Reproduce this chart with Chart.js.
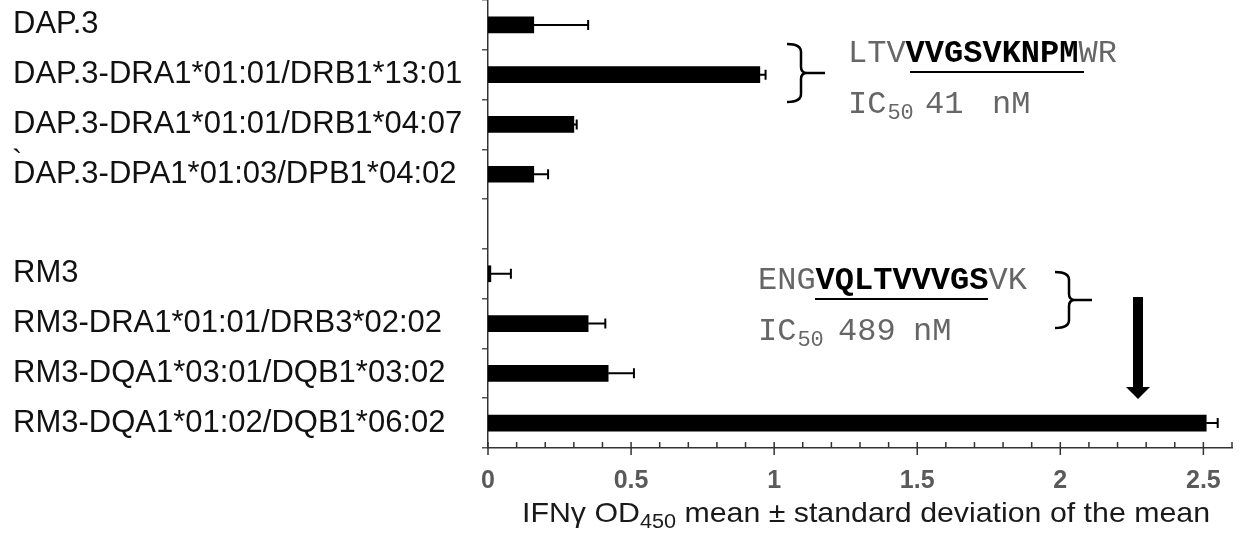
<!DOCTYPE html>
<html lang="en">
<head>
    <style>
        body { margin: 0; background: #fff; }
        #wrap { position: relative; width: 1240px; height: 536px; }
    </style>
</head>
<body>
    <div id="wrap">
        <canvas id="BarChart" width="1240" height="536"></canvas>
    </div>

    <script src="https://cdn.jsdelivr.net/npm/chart.js"></script>
    <script>
        // Chart data
        const categories = [
            'DAP.3',
            'DAP.3-DRA1*01:01/DRB1*13:01',
            'DAP.3-DRA1*01:01/DRB1*04:07',
            'DAP.3-DPA1*01:03/DPB1*04:02',
            '',
            'RM3',
            'RM3-DRA1*01:01/DRB3*02:02',
            'RM3-DQA1*03:01/DQB1*03:02',
            'RM3-DQA1*01:02/DQB1*06:02'
        ];
        const means = [0.16, 0.95, 0.30, 0.16, null, 0.01, 0.35, 0.42, 2.51];
        const sems = [0.19, 0.02, 0.01, 0.05, null, 0.07, 0.06, 0.09, 0.04];
        const xTicks = [0, 0.5, 1, 1.5, 2, 2.5];

        const labelFont = "'Liberation Sans', Arial, sans-serif";
        const monoFont = "'Liberation Mono', 'Courier New', monospace";

        // Error bars (plus side only, with a cap)
        const errorBars = {
            id: 'errorBars',
            afterDatasetsDraw(chart) {
                const x = chart.scales.x, y = chart.scales.y, ctx = chart.ctx;
                ctx.save();
                ctx.strokeStyle = '#000';
                ctx.lineWidth = 2;
                means.forEach((m, i) => {
                    if (m === null) return;
                    const x1 = x.getPixelForValue(m);
                    const x2 = x.getPixelForValue(m + sems[i]);
                    const py = y.getPixelForValue(i);
                    ctx.beginPath();
                    ctx.moveTo(x1, py);
                    ctx.lineTo(x2, py);
                    ctx.moveTo(x2, py - 5);
                    ctx.lineTo(x2, py + 5);
                    ctx.stroke();
                });
                ctx.restore();
            }
        };

        // x axis tick marks (major cross the axis, minor inside) + axis title
        const xAxisDeco = {
            id: 'xAxisDeco',
            afterDraw(chart) {
                const x = chart.scales.x, ctx = chart.ctx;
                const y0 = chart.chartArea.bottom;
                ctx.save();
                ctx.strokeStyle = '#333';
                ctx.lineWidth = 1.5;
                for (let k = 0; k <= 26; k++) {
                    const px = x.getPixelForValue(k / 10);
                    ctx.beginPath();
                    if (k % 5 === 0) {
                        ctx.moveTo(px, y0 - 6);
                        ctx.lineTo(px, y0 + 7);
                    } else {
                        ctx.moveTo(px, y0 - 6);
                        ctx.lineTo(px, y0);
                    }
                    ctx.stroke();
                }

                // axis title with subscript
                ctx.fillStyle = '#1a1a1a';
                ctx.textBaseline = 'alphabetic';
                const parts = [
                    { t: 'IFN\u03b3 OD', f: '28px ' + labelFont, dy: 0 },
                    { t: '450', f: '20px ' + labelFont, dy: 6 },
                    { t: ' mean \u00b1 standard deviation of the mean', f: '28px ' + labelFont, dy: 0 }
                ];
                let total = 0;
                parts.forEach(p => { ctx.font = p.f; p.w = ctx.measureText(p.t).width; total += p.w; });
                const targetW = 688;
                const sx = targetW / total;
                ctx.translate(522, 522);
                ctx.scale(sx, 1);
                let cx = 0;
                parts.forEach(p => {
                    ctx.font = p.f;
                    ctx.fillText(p.t, cx, p.dy);
                    cx += p.w;
                });
                ctx.restore();
            }
        };

        // peptide annotations, brackets and arrow
        function drawBracket(ctx, x0, x1, top, bot, stub) {
            const mid = (top + bot) / 2;
            ctx.beginPath();
            ctx.moveTo(x0, top);
            ctx.quadraticCurveTo(x1, top, x1, top + 8);
            ctx.lineTo(x1, mid - 6);
            ctx.quadraticCurveTo(x1, mid, x1 + 6, mid);
            ctx.lineTo(stub, mid);
            ctx.moveTo(x1 + 6, mid);
            ctx.quadraticCurveTo(x1, mid, x1, mid + 6);
            ctx.lineTo(x1, bot - 8);
            ctx.quadraticCurveTo(x1, bot, x0, bot);
            ctx.stroke();
        }

        function drawPeptide(ctx, x, y, parts) {
            let cx = x;
            parts.forEach(p => {
                ctx.font = (p.b ? 'bold ' : '') + '32px ' + monoFont;
                ctx.fillStyle = p.b ? '#000' : '#666';
                ctx.fillText(p.t, cx, y);
                cx += ctx.measureText(p.t).width;
            });
        }

        function drawIC(ctx, x, y, value, valueX, nmX) {
            ctx.fillStyle = '#666';
            ctx.font = '32px ' + monoFont;
            ctx.fillText('IC', x, y);
            const w = ctx.measureText('IC').width;
            ctx.font = '22px ' + monoFont;
            ctx.fillText('50', x + w + 1, y + 6);
            ctx.font = '32px ' + monoFont;
            ctx.fillText(value, valueX, y);
            ctx.fillText('nM', nmX, y);
        }

        const annotations = {
            id: 'annotations',
            afterDraw(chart) {
                const ctx = chart.ctx;
                ctx.save();
                ctx.textBaseline = 'alphabetic';
                ctx.strokeStyle = '#000';
                ctx.lineWidth = 2.5;

                drawBracket(ctx, 787, 801, 44, 102, 825);
                drawPeptide(ctx, 848, 62, [
                    { t: 'LTV', b: false }, { t: 'VVGSVKNPM', b: true }, { t: 'WR', b: false }
                ]);
                ctx.lineWidth = 2;
                ctx.beginPath();
                ctx.moveTo(910, 72);
                ctx.lineTo(1084, 72);
                ctx.stroke();
                drawIC(ctx, 848, 113, '41', 925, 992);

                ctx.lineWidth = 2.5;
                drawBracket(ctx, 1055, 1069, 272, 328, 1092);
                drawPeptide(ctx, 758, 289, [
                    { t: 'ENG', b: false }, { t: 'VQLTVVVGS', b: true }, { t: 'VK', b: false }
                ]);
                ctx.lineWidth = 2;
                ctx.beginPath();
                ctx.moveTo(815, 299);
                ctx.lineTo(988, 299);
                ctx.stroke();
                drawIC(ctx, 758, 340, '489', 838, 913);

                // arrow
                ctx.fillStyle = '#000';
                ctx.fillRect(1133, 297, 10, 91);
                ctx.beginPath();
                ctx.moveTo(1126, 387);
                ctx.lineTo(1150, 387);
                ctx.lineTo(1138, 399);
                ctx.closePath();
                ctx.fill();

                // stray mark in the original labels
                ctx.font = '31px ' + labelFont;
                ctx.fillStyle = '#111';
                ctx.fillText('`', 12, 172);
                ctx.restore();
            }
        };

        const ctx = document.getElementById('BarChart').getContext('2d');
        const myChart = new Chart(ctx, {
            type: 'bar',
            data: {
                labels: categories,
                datasets: [{
                    data: means,
                    backgroundColor: '#000',
                    borderWidth: 0,
                    barThickness: 16
                }]
            },
            options: {
                indexAxis: 'y',
                responsive: false,
                animation: false,
                layout: { padding: { left: 13, right: 8, top: 0, bottom: 0 } },
                plugins: {
                    legend: { display: false },
                    tooltip: { enabled: false }
                },
                scales: {
                    y: {
                        type: 'category',
                        border: { display: true, color: '#333', width: 1.5 },
                        grid: {
                            display: true,
                            drawOnChartArea: false,
                            drawTicks: true,
                            tickLength: 6,
                            color: '#555',
                            lineWidth: 1.5,
                            offset: true
                        },
                        ticks: {
                            crossAlign: 'far',
                            color: '#111',
                            font: { family: labelFont, size: 31 }
                        },
                        afterFit(scale) {
                            scale.width = 475;
                            scale.paddingTop = 0;
                            scale.paddingBottom = 0;
                        }
                    },
                    x: {
                        type: 'linear',
                        min: 0,
                        max: 2.6,
                        border: { display: true, color: '#333', width: 1.5 },
                        grid: { display: false, drawTicks: false },
                        afterBuildTicks(scale) {
                            scale.ticks = xTicks.map(v => ({ value: v }));
                        },
                        ticks: {
                            padding: 18,
                            color: '#5a5a5a',
                            font: { family: "'Liberation Sans Narrow', " + labelFont, size: 25, weight: 'bold' },
                            callback: v => String(v)
                        },
                        afterFit(scale) {
                            scale.height = 88;
                            scale.paddingLeft = 0;
                            scale.paddingRight = 0;
                        }
                    }
                }
            },
            plugins: [errorBars, xAxisDeco, annotations]
        });
    </script>
</body>
</html>
